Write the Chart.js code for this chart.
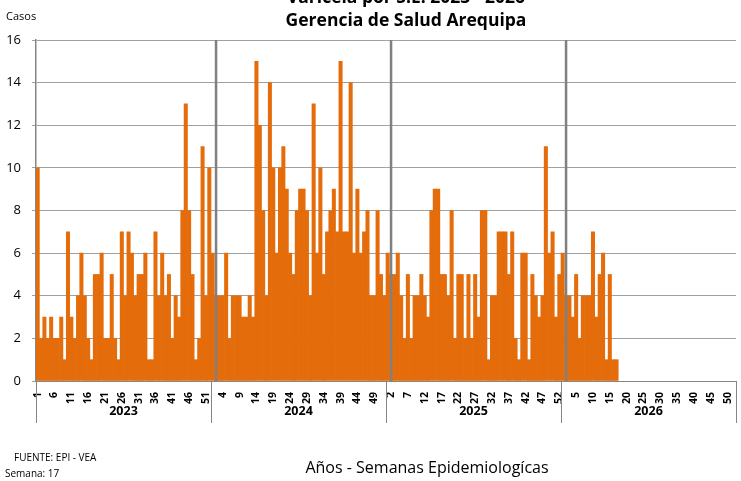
<!DOCTYPE html>
<html><head><meta charset="utf-8">
<script src="https://cdn.jsdelivr.net/npm/chart.js@4/dist/chart.umd.min.js"></script>
<style>html,body{margin:0;padding:0;background:#fff}#wrap{width:741px;height:481px;position:relative}</style>
</head><body><div id="wrap"><canvas id="c" width="741" height="481"></canvas></div>
<script>
const years = ['2023', '2024', '2025', '2026'];
const weeksPerYear = 52;
const cases2023 = [10,2,3,2,3,2,2,3,1,7, 3,2,4,6,4,2,1,5,5,6, 2,2,5,2,1,7,4,7,6,4, 5,5,6,1,1,7,4,6,4,5, 2,4,3,8,13,8,5,1,2,11, 4,10];
const cases2024 = [6,4,4,4,6,2,4,4,4,3, 3,4,3,15,12,8,4,14,10,6, 10,11,9,6,5,8,9,9,8,4, 13,6,10,5,7,8,9,7,15,7, 7,14,6,9,6,7,8,4,4,8, 5,4];
const cases2025 = [6,5,5,6,4,2,5,2,4,4, 5,4,3,8,9,9,5,5,4,8, 2,5,5,2,5,2,5,3,8,8, 1,4,4,7,7,7,5,7,2,1, 6,6,1,5,4,3,4,11,6,7, 3,5];
const cases2026 = [6,4,4,3,5,2,4,4,4,7, 3,5,6,1,5,1,1];
const yTicks = [0, 2, 4, 6, 8, 10, 12, 14, 16];
const titleLines = ['Varicela por S.E. 2023 - 2026', 'Gerencia de Salud Arequipa'];
const yAxisLabel = 'Casos';
const xAxisTitle = 'Años - Semanas Epidemiologícas';
const sourceNote = 'FUENTE: EPI - VEA';
const weekNote = 'Semana: 17';

const seriesByYear = [cases2023, cases2024, cases2025, cases2026];
const weekLabels = [];
const values = [];
seriesByYear.forEach(arr => {
  for (let w = 1; w <= weeksPerYear; w++) {
    weekLabels.push(String(w));
    values.push(w <= arr.length ? arr[w - 1] : null);
  }
});

const FONT = "'Open Sans', 'Liberation Sans', sans-serif";
Chart.defaults.font.family = FONT;
Chart.defaults.color = '#000';

const decor = {
  id: 'decor',
  afterDatasetsDraw(chart) {
    const {ctx, chartArea: a, scales: {x}} = chart;
    ctx.save();
    ctx.strokeStyle = '#808080';
    ctx.lineWidth = 2.5;
    for (let k = 1; k < years.length; k++) {
      const px = x.getPixelForValue(k * weeksPerYear + 1);
      ctx.beginPath(); ctx.moveTo(px, a.top); ctx.lineTo(px, a.bottom); ctx.stroke();
    }
    ctx.restore();
  },
  afterDraw(chart) {
    const {ctx, chartArea: a, scales: {x}} = chart;
    ctx.save();
    ctx.strokeStyle = '#868686';
    ctx.lineWidth = 1;
    const half = (x.getPixelForValue(1) - x.getPixelForValue(0)) / 2;
    const bounds = [];
    for (let k = 0; k <= years.length; k++) {
      const px = k === 0 ? a.left : x.getPixelForValue(k * weeksPerYear - 1) + half;
      bounds.push(px);
      ctx.beginPath(); ctx.moveTo(Math.round(px) + 0.5, a.bottom); ctx.lineTo(Math.round(px) + 0.5, a.bottom + 42); ctx.stroke();
    }
    ctx.fillStyle = '#000';
    ctx.textAlign = 'center';
    ctx.textBaseline = 'middle';
    ctx.font = 'bold 12.5px ' + FONT;
    years.forEach((y, k) => ctx.fillText(y, (bounds[k] + bounds[k + 1]) / 2, a.bottom + 30));
    ctx.font = 'bold 17.5px ' + FONT;
    ctx.textBaseline = 'alphabetic';
    ctx.fillText(titleLines[0], 406, 3);
    ctx.fillText(titleLines[1], 406, 26);
    ctx.textAlign = 'left';
    ctx.font = '11px ' + FONT;
    ctx.fillText(yAxisLabel, 6, 20);
    ctx.font = '10px ' + FONT;
    ctx.fillText(sourceNote, 14, 461);
    ctx.fillText(weekNote, 5, 477);
    ctx.textAlign = 'center';
    ctx.font = '16px ' + FONT;
    ctx.fillText(xAxisTitle, 427, 473);
    ctx.restore();
  }
};

new Chart(document.getElementById('c'), {
  type: 'bar',
  data: {
    labels: weekLabels,
    datasets: [{
      data: values,
      backgroundColor: '#E46C0A',
      borderWidth: 0,
      barPercentage: 1,
      categoryPercentage: 1
    }]
  },
  options: {
    responsive: false,
    animation: false,
    devicePixelRatio: 1,
    layout: {padding: {top: 40, right: 5, left: 0, bottom: 0}},
    plugins: {legend: {display: false}, tooltip: {enabled: false}, title: {display: false}},
    scales: {
      x: {
        grid: {display: false},
        border: {display: true, color: '#868686', width: 1},
        ticks: {
          autoSkip: false, maxRotation: 90, minRotation: 90, padding: 3,
          font: {size: 10.5, weight: 'bold'}, color: '#000',
          callback: (v, i) => (i % 5 === 0 ? weekLabels[i] : '')
        },
        afterFit: s => { s.height = 100; s.paddingLeft = 0; s.paddingRight = 0; }
      },
      y: {
        min: yTicks[0], max: yTicks[yTicks.length - 1],
        afterBuildTicks: s => { s.ticks = yTicks.map(v => ({value: v})); },
        grid: {color: '#a0a0a0', lineWidth: 1, tickLength: 4},
        border: {display: true, color: '#868686', width: 1.5},
        ticks: {font: {size: 13}, color: '#000', padding: 11},
        afterFit: s => { s.width = 36; s.paddingTop = 0; s.paddingBottom = 0; }
      }
    }
  },
  plugins: [decor]
});
</script></body></html>
